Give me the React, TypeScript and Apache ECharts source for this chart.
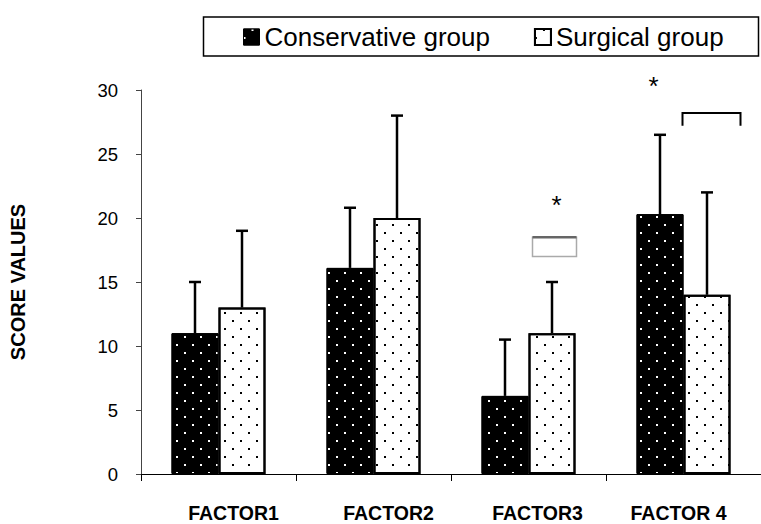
import React, { useEffect, useRef } from "react";
import * as echarts from "echarts";

// ---- data ----
const categories = ["FACTOR1", "FACTOR2", "FACTOR3", "FACTOR 4"];
const seriesNames = ["Conservative group", "Surgical group"];
const conservative = [11, 16.1, 6.1, 20.3];
const conservativeUpper = [15, 20.8, 10.5, 26.5];
const surgical = [13, 20, 11, 14];
const surgicalUpper = [19, 28, 15, 22];
const yTicks = [0, 5, 10, 15, 20, 25, 30];
// significance marks
const starCategory = [2, 3];
const starValue = [21.5, 30.8];
const bracketCategory = [2, 3];
const bracketTop = [18.5, 28.2];
const bracketBottom = [17.0, 27.2];

// ---- layout / style constants ----
const FONT = "'Liberation Sans', Arial, sans-serif";
const BAR_W = 47;
const STAR_OFFSET = [28, -30]; // px from category centre
const BRACKET_X = [
  [4, 48],
  [-1, 57],
];
const LABEL_SHIFT = [15, 15, 9, -5];

const dotDecal = (color: string) => ({
  symbol: "rect",
  symbolSize: 1,
  color,
  dashArrayX: [
    [2, 14],
    [0, 8, 2, 6],
  ],
  dashArrayY: [2, 6],
  rotation: 0,
});

export default function App() {
  const ref = useRef<HTMLDivElement>(null);
  useEffect(() => {
    if (!ref.current) return;
    const chart = echarts.init(ref.current, undefined, { renderer: "svg" });

    const errData = (vals: number[], ups: number[]) =>
      vals.map((v, i) => [i, v, ups[i]]);

    const errRender = (side: number) => (params: any, api: any) => {
      const cat = api.value(0);
      const base = api.coord([cat, api.value(1)]);
      const top = api.coord([cat, api.value(2)]);
      const x = base[0] + side * (BAR_W / 2);
      const st = { stroke: "#000", lineWidth: 2.5 };
      return {
        type: "group",
        children: [
          { type: "line", shape: { x1: x, y1: base[1], x2: x, y2: top[1] }, style: st },
          { type: "line", shape: { x1: x - 6, y1: top[1], x2: x + 6, y2: top[1] }, style: st },
        ],
      };
    };

    const rich: any = {};
    LABEL_SHIFT.forEach((s, i) => {
      rich["s" + i] = {
        fontFamily: FONT,
        fontSize: 19.5,
        fontWeight: "bold",
        color: "#000",
        padding: s >= 0 ? [0, 0, 0, 2 * s] : [0, -2 * s, 0, 0],
      };
    });

    const option: any = {
      animation: false,
      backgroundColor: "#fff",
      textStyle: { fontFamily: FONT },
      graphic: [
        {
          type: "rect",
          shape: { x: 203.5, y: 17, width: 555, height: 39 },
          style: { fill: "none", stroke: "#000", lineWidth: 1.5 },
          z: 0,
        },
      ],
      legend: {
        left: 243,
        top: 24,
        padding: 0,
        itemWidth: 16,
        itemHeight: 16,
        itemGap: 44,
        icon: "rect",
        textStyle: { fontFamily: FONT, fontSize: 26, color: "#000", padding: [0, 0, 0, 0] },
        data: [
          { name: seriesNames[0], itemStyle: { color: "#000", borderColor: "#000", borderWidth: 1 } },
          { name: seriesNames[1], itemStyle: { color: "#fff", borderColor: "#000", borderWidth: 2 } },
        ],
      },
      grid: { left: 133, top: 90, width: 640, height: 384, containLabel: false },
      xAxis: {
        type: "category",
        data: categories,
        axisLine: { lineStyle: { color: "#000", width: 1 } },
        axisTick: { show: true, length: 7, lineStyle: { color: "#000" } },
        axisLabel: {
          margin: 29,
          interval: 0,
          formatter: (v: string, i: number) => `{s${i}|${v}}`,
          rich,
        },
      },
      yAxis: {
        type: "value",
        min: yTicks[0],
        max: yTicks[yTicks.length - 1],
        interval: yTicks[1] - yTicks[0],
        name: "SCORE VALUES",
        nameLocation: "middle",
        nameGap: 113,
        nameTextStyle: { fontFamily: FONT, fontSize: 20, fontWeight: "bold", color: "#000" },
        axisLine: { show: true, lineStyle: { color: "#444", width: 1 } },
        axisTick: { show: true, length: 5, lineStyle: { color: "#444" } },
        splitLine: { show: false },
        axisLabel: { fontFamily: FONT, fontSize: 18.5, color: "#000", margin: 23 },
      },
      series: [
        {
          name: seriesNames[0],
          type: "bar",
          data: conservative,
          barWidth: BAR_W,
          barGap: "0%",
          itemStyle: { color: "#000", borderColor: "#000", borderWidth: 1, decal: dotDecal("#fff") },
          z: 2,
        },
        {
          name: seriesNames[1],
          type: "bar",
          data: surgical,
          barWidth: BAR_W,
          barGap: "0%",
          itemStyle: { color: "#fff", borderColor: "#000", borderWidth: 2, decal: dotDecal("#000") },
          z: 2,
        },
        {
          type: "custom",
          data: errData(conservative, conservativeUpper),
          renderItem: errRender(-1),
          z: 5,
          silent: true,
        },
        {
          type: "custom",
          data: errData(surgical, surgicalUpper),
          renderItem: errRender(1),
          z: 5,
          silent: true,
        },
        {
          type: "custom",
          data: starCategory.map((c, i) => [c, starValue[i]]),
          renderItem: (params: any, api: any) => {
            const p = api.coord([api.value(0), api.value(1)]);
            return {
              type: "text",
              x: p[0] + STAR_OFFSET[params.dataIndex],
              y: p[1] + 6,
              style: {
                text: "*",
                fontFamily: FONT,
                fontSize: 26,
                fill: "#000",
                align: "center",
                verticalAlign: "middle",
              },
            };
          },
          clip: false,
          z: 6,
          silent: true,
        },
        {
          type: "custom",
          data: bracketCategory.map((c, i) => [c, bracketTop[i], bracketBottom[i]]),
          renderItem: (params: any, api: any) => {
            const i = params.dataIndex;
            const t = api.coord([api.value(0), api.value(1)]);
            const b = api.coord([api.value(0), api.value(2)]);
            const x0 = t[0] + BRACKET_X[i][0];
            const x1 = t[0] + BRACKET_X[i][1];
            if (i === 0) {
              return {
                type: "group",
                children: [
                  {
                    type: "rect",
                    shape: { x: x0, y: t[1], width: x1 - x0, height: b[1] - t[1] },
                    style: { fill: "none", stroke: "#aaa", lineWidth: 1.5 },
                  },
                  {
                    type: "line",
                    shape: { x1: x0, y1: t[1], x2: x1, y2: t[1] },
                    style: { stroke: "#666", lineWidth: 2.5 },
                  },
                ],
              };
            }
            return {
              type: "polyline",
              shape: {
                points: [
                  [x0, b[1]],
                  [x0, t[1]],
                  [x1, t[1]],
                  [x1, b[1]],
                ],
              },
              style: { fill: "none", stroke: "#000", lineWidth: 2 },
            };
          },
          clip: false,
          z: 6,
          silent: true,
        },
      ],
    };
    chart.setOption(option);
    return () => chart.dispose();
  }, []);

  return (
    <div
      ref={ref}
      style={{ position: "fixed", left: 0, top: 0, width: 761, height: 524, background: "#fff" }}
    />
  );
}
